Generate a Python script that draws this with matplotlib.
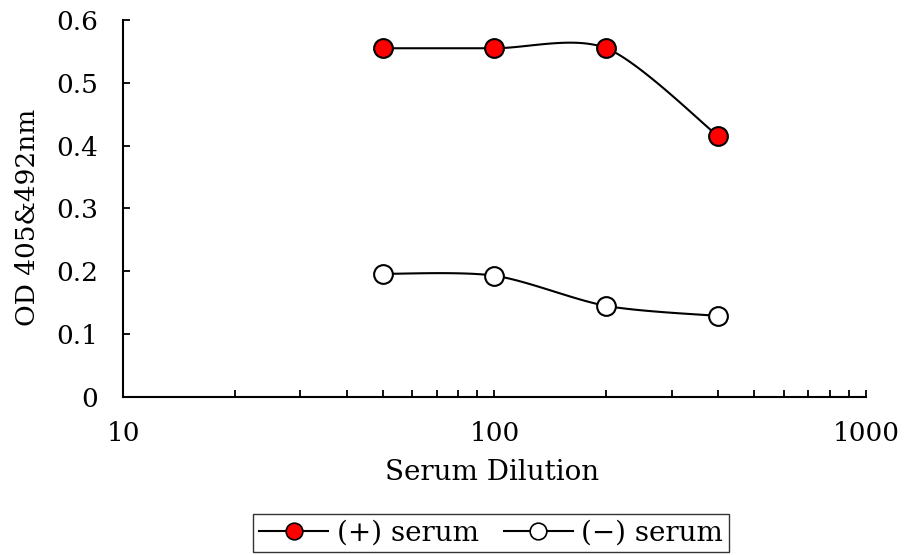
import numpy as np
import matplotlib
matplotlib.use('Agg')
import matplotlib.pyplot as plt

dilution = [50, 100, 200, 400]
serumPos = [0.555, 0.555, 0.555, 0.415]
serumNeg = [0.196, 0.193, 0.145, 0.129]

plt.rcParams['font.family'] = ['DejaVu Serif']


def smoothCurve(xs, ys, n=40):
    # excel style smoothed line: catmull-rom in log10(x) / y space
    lx = np.log10(xs)
    pts = np.column_stack([lx, ys])
    pts = np.vstack([pts[0], pts, pts[-1]])
    out = []
    for i in range(1, len(pts) - 2):
        p0, p1, p2, p3 = pts[i - 1], pts[i], pts[i + 1], pts[i + 2]
        c1 = p1 + (p2 - p0) / 7
        c2 = p2 - (p3 - p1) / 7
        t = np.linspace(0, 1, n)[:, None]
        seg = (1 - t)**3 * p1 + 3 * (1 - t)**2 * t * c1 + 3 * (1 - t) * t**2 * c2 + t**3 * p2
        out.append(seg)
    out = np.vstack(out)
    return 10**out[:, 0], out[:, 1]


fig = plt.figure(figsize=(9.06, 5.55), dpi=100)
ax = fig.add_axes([0.1358, 0.2847, 0.82, 0.6793])

for vals, fc, lab in [(serumPos, 'red', '(+) serum'), (serumNeg, 'white', '(\u2212) serum')]:
    sx, sy = smoothCurve(dilution, vals)
    ax.plot(sx, sy, color='black', lw=1.5, zorder=2)
    ax.plot(dilution, vals, ls='none', marker='o', ms=13.5, mfc=fc, mec='black', mew=1.5, zorder=3)
    ax.plot([], [], color='black', lw=1.5, marker='o', ms=12, mfc=fc, mec='black', mew=1.2, label=lab)

ax.set_xscale('log')
ax.set_xlim(10, 1000)
ax.set_ylim(0, 0.6)
ax.set_yticks([0, 0.1, 0.2, 0.3, 0.4, 0.5, 0.6])
ax.set_yticklabels(['0', '0.1', '0.2', '0.3', '0.4', '0.5', '0.6'])
ax.set_xticks([10, 100, 1000])
ax.set_xticklabels(['10', '100', '1000'])

for s in ['top', 'right']:
    ax.spines[s].set_visible(False)
for s in ['left', 'bottom']:
    ax.spines[s].set_linewidth(1.5)

ax.tick_params(axis='both', which='both', direction='in', width=1.3, labelsize=19)
ax.tick_params(axis='x', which='major', length=5, pad=17)
ax.tick_params(axis='x', which='minor', length=5)
ax.tick_params(axis='y', which='major', length=5, pad=18)

ax.set_ylabel('OD 405&492nm', fontsize=19)
ax.yaxis.set_label_coords(-0.112, 0.477)
xl = ax.set_xlabel('Serum Dilution', fontsize=20)
xl.set_va('center')
ax.xaxis.set_label_coords(0.497, -0.2016)

leg = fig.legend(loc='center', bbox_to_anchor=(0.542, 0.0396), ncol=2, frameon=True,
                 fancybox=False, fontsize=20, handlelength=2.5, columnspacing=0.9,
                 handletextpad=0.3, borderpad=0.2, borderaxespad=0)
leg.get_frame().set_edgecolor('black')
leg.get_frame().set_linewidth(1.0)

fig.savefig('out.png', dpi=100)
